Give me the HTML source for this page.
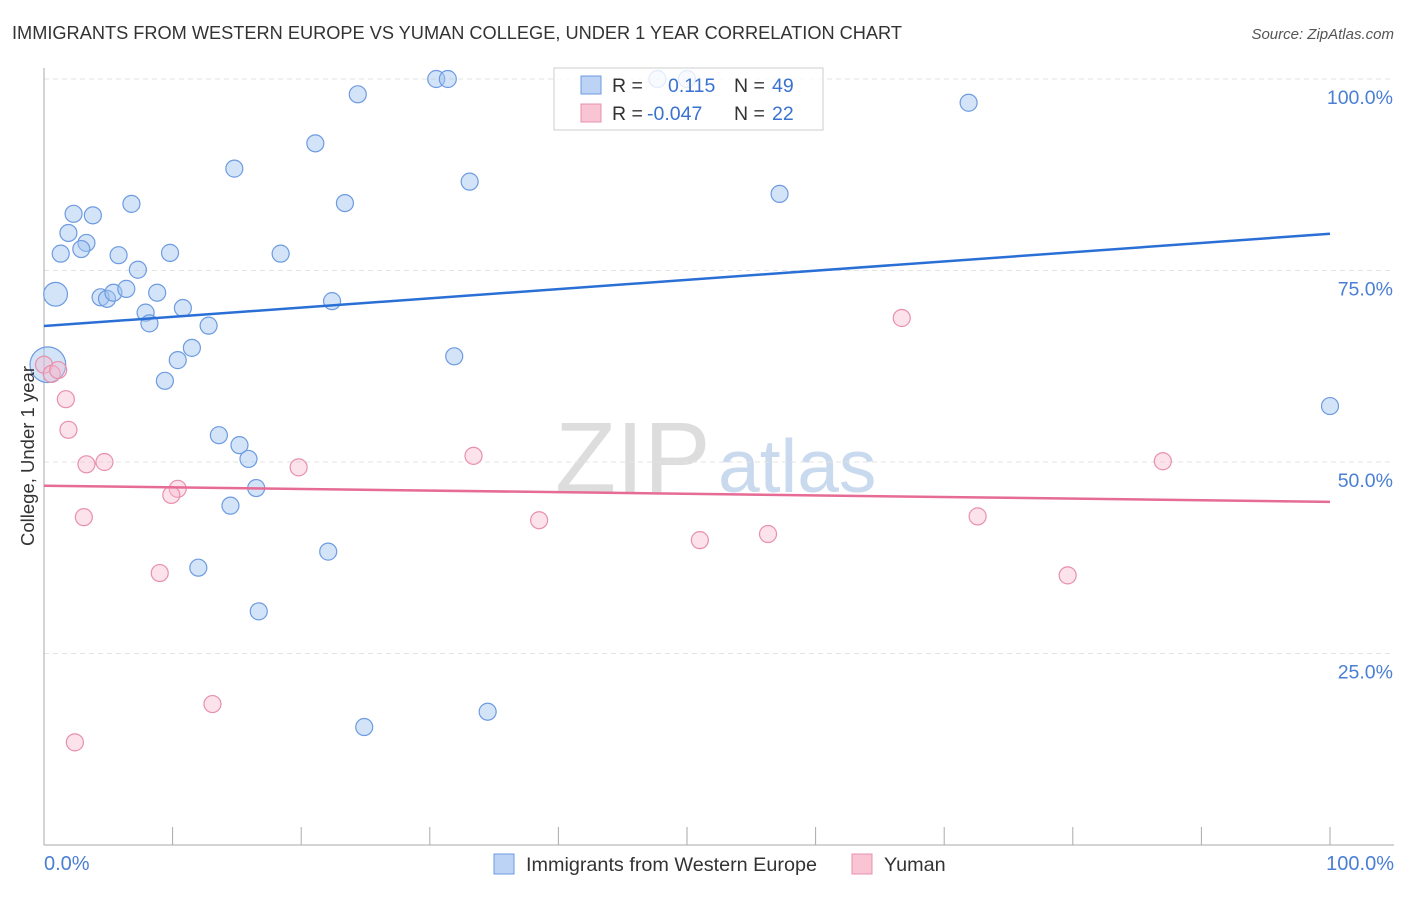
<!DOCTYPE html>
<html><head><meta charset="utf-8"><style>
body{margin:0;background:#fff;font-family:"Liberation Sans",sans-serif}
svg text{font-family:"Liberation Sans",sans-serif}
</style></head><body>
<svg id="chart" width="1406" height="892">
<text x="12" y="39" font-size="18.2" fill="#333">IMMIGRANTS FROM WESTERN EUROPE VS YUMAN COLLEGE, UNDER 1 YEAR CORRELATION CHART</text>
<text x="1394" y="39" font-size="15" fill="#555" font-style="italic" text-anchor="end">Source: ZipAtlas.com</text>
<text x="555" y="492" font-size="100" fill="#ddd" font-family="Liberation Serif">ZIP</text>
<text x="718" y="492" font-size="75" fill="#c9d9ee">atlas</text>
<g id="grid"></g><g id="axes"></g><g id="pts"></g><g id="lines"></g>
<text transform="translate(34,456) rotate(-90)" font-size="18.5" fill="#333" text-anchor="middle">College, Under 1 year</text>
<text x="44" y="870" font-size="20" fill="#4a7fd4">0.0%</text>
<text x="1394" y="870" font-size="20" fill="#4a7fd4" text-anchor="end">100.0%</text>
<g>
<rect x="554" y="68" width="269" height="62" fill="rgba(255,255,255,0.8)" stroke="#ccc"/>
<rect x="581" y="76" width="20" height="18" fill="#bcd3f5" stroke="#6d9be0"/>
<rect x="581" y="104" width="20" height="18" fill="#f9c5d5" stroke="#e890ab"/>
<text x="612" y="92" font-size="19.5" fill="#333">R = </text><text x="668" y="92" font-size="19.5" fill="#3a72cf">0.115</text>
<text x="734" y="92" font-size="19.5" fill="#333">N = </text><text x="772" y="92" font-size="19.5" fill="#3a72cf">49</text>
<text x="612" y="120" font-size="19.5" fill="#333">R = </text><text x="647" y="120" font-size="19.5" fill="#3a72cf">-0.047</text>
<text x="734" y="120" font-size="19.5" fill="#333">N = </text><text x="772" y="120" font-size="19.5" fill="#3a72cf">22</text>
</g>
<g>
<rect x="494" y="854" width="20" height="20" fill="#bcd3f5" stroke="#6d9be0"/>
<text x="526" y="871" font-size="19.8" fill="#333">Immigrants from Western Europe</text>
<rect x="852" y="854" width="20" height="20" fill="#f9c5d5" stroke="#e890ab"/>
<text x="884" y="871" font-size="19.8" fill="#333">Yuman</text>
</g>
</svg>
<script>
const blueX=[30.5,31.4,24.4,71.9,21.1,14.8,33.1,57.2,6.8,23.4,2.3,3.8,1.9,3.3,2.9,1.3,5.8,9.8,18.4,7.3,0.9,4.4,4.9,5.4,6.4,8.8,22.4,10.8,7.9,8.2,12.8,11.5,10.4,31.9,9.4,0.3,100,13.6,15.2,15.9,16.5,14.5,22.1,12.0,16.7,24.9,34.5,47.7,50.0];
const blueY=[100,100,98.0,96.9,91.6,88.3,86.6,85.0,83.7,83.8,82.4,82.2,79.9,78.6,77.8,77.2,77.0,77.3,77.2,75.1,71.9,71.5,71.3,72.1,72.6,72.1,71.0,70.1,69.5,68.1,67.8,64.9,63.3,63.8,60.6,62.7,57.3,53.5,52.2,50.4,46.6,44.3,38.3,36.2,30.5,15.4,17.4,100,100];
const blueSize=[1,1,1,1,1,1,1,1,1,1,1,1,1,1,1,1,1,1,1,1,1.4,1,1,1,1,1,1,1,1,1,1,1,1,1,1,2.1,1,1,1,1,1,1,1,1,1,1,1,1,1];
const pinkX=[0,0.6,1.1,1.7,1.9,3.3,4.7,3.1,9.0,10.4,9.9,13.1,2.4,19.8,33.4,38.5,51.0,56.3,66.7,72.6,79.6,87.0];
const pinkY=[62.7,61.5,62.0,58.2,54.2,49.7,50.0,42.8,35.5,46.5,45.7,18.4,13.4,49.3,50.8,42.4,39.8,40.6,68.8,42.9,35.2,50.1];
const blueTrend=[67.75,79.8];
const pinkTrend=[46.9,44.8];
const yTicks=[25,50,75,100];
const yTickLabels=["25.0%","50.0%","75.0%","100.0%"];
const xTicks=[0,10,20,30,40,50,60,70,80,90,100];

const X0=44,X1=1330,Y0=845,Y100=79;
const sx=v=>X0+(X1-X0)*v/100;
const sy=v=>Y0-(Y0-Y100)*v/100;
const NS="http://www.w3.org/2000/svg";
function mk(tag,attrs,parent){const e=document.createElementNS(NS,tag);for(const k in attrs)e.setAttribute(k,attrs[k]);document.getElementById(parent).appendChild(e);return e;}

yTicks.forEach((t,i)=>{
  const l=mk('line',{x1:X0,x2:1394,y1:sy(t),y2:sy(t),stroke:'#e3e3e3','stroke-dasharray':'5,4'},'grid');
  
  
  const tx=mk('text',{x:1393,y:sy(t)+25,'font-size':19.5,fill:'#4a7fd4','text-anchor':'end'},'grid');
  tx.textContent=yTickLabels[i];
  
  
});
const ya=mk('line',{x1:X0,x2:X0,y1:68,y2:Y0,stroke:'#aaa'},'axes');


const xa=mk('line',{x1:X0,x2:1394,y1:Y0,y2:Y0,stroke:'#aaa'},'axes');


xTicks.forEach(t=>{
  const k=mk('line',{x1:sx(t),x2:sx(t),y1:827,y2:Y0,stroke:'#aaa'},'axes');
  
  
});
blueX.forEach((v,i)=>{
  const c=mk('circle',{cx:sx(v),cy:sy(blueY[i]),r:8.5*blueSize[i],fill:'rgba(160,195,240,0.45)',stroke:'#6d9be0','stroke-width':1.2},'pts');
  
  
});
pinkX.forEach((v,i)=>{
  const c=mk('circle',{cx:sx(v),cy:sy(pinkY[i]),r:8.5,fill:'rgba(248,185,205,0.4)',stroke:'#e890ab','stroke-width':1.2},'pts');
  
  
});
const bl=mk('line',{x1:sx(0),x2:sx(100),y1:sy(blueTrend[0]),y2:sy(blueTrend[1]),stroke:'#2a6fd6','stroke-width':2.5},'lines');


const pl=mk('line',{x1:sx(0),x2:sx(100),y1:sy(pinkTrend[0]),y2:sy(pinkTrend[1]),stroke:'#e66b95','stroke-width':2.5},'lines');


</script>
</body></html>
